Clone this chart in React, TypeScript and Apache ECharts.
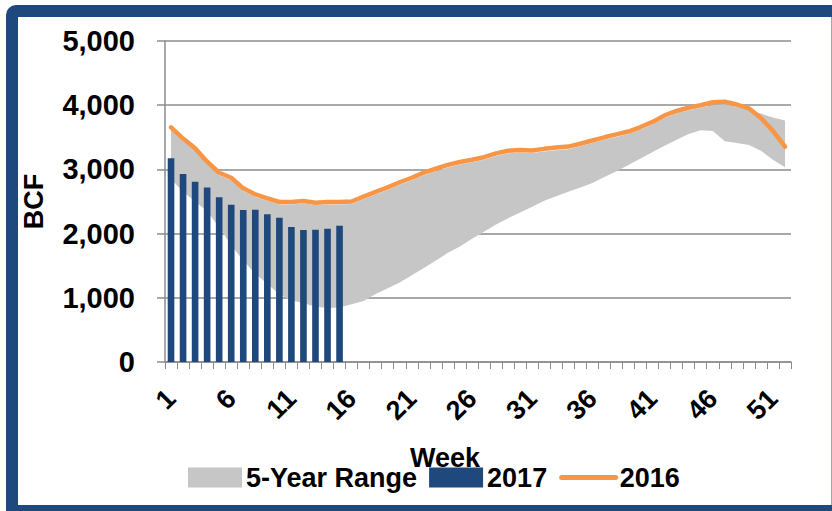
import React, { useEffect, useRef } from "react";
import * as echarts from "echarts";

const weeks = ["1","2","3","4","5","6","7","8","9","10","11","12","13","14","15","16","17","18","19","20","21","22","23","24","25","26","27","28","29","30","31","32","33","34","35","36","37","38","39","40","41","42","43","44","45","46","47","48","49","50","51","52"];

const yAxisTicks = [0, 1000, 2000, 3000, 4000, 5000];

const storage2017 = [3172, 2928, 2808, 2720, 2565, 2450, 2368, 2370, 2300, 2248, 2103, 2056, 2060, 2077, 2124];

const storage2016 = [3655, 3480, 3328, 3120, 2948, 2870, 2705, 2610, 2550, 2492, 2492, 2508, 2482, 2492, 2492, 2500, 2575, 2650, 2720, 2800, 2870, 2950, 3010, 3070, 3115, 3150, 3190, 3250, 3290, 3302, 3295, 3320, 3340, 3355, 3400, 3450, 3500, 3545, 3590, 3660, 3740, 3840, 3910, 3960, 4000, 4045, 4055, 4010, 3951, 3800, 3600, 3354];

const rangeHigh = [3615, 3440, 3290, 3085, 2910, 2830, 2665, 2570, 2510, 2455, 2455, 2470, 2445, 2455, 2455, 2460, 2535, 2610, 2680, 2760, 2830, 2910, 2970, 3030, 3075, 3110, 3150, 3210, 3250, 3262, 3255, 3280, 3300, 3315, 3360, 3410, 3460, 3505, 3550, 3620, 3700, 3800, 3870, 3920, 3960, 4005, 4015, 3975, 3920, 3870, 3810, 3760];

const rangeLow = [2850, 2650, 2500, 2350, 2100, 1820, 1580, 1375, 1220, 1050, 960, 914, 860, 840, 850, 900, 950, 1060, 1150, 1240, 1350, 1465, 1580, 1700, 1800, 1920, 2030, 2140, 2240, 2330, 2420, 2510, 2580, 2650, 2720, 2790, 2880, 2970, 3069, 3170, 3270, 3370, 3460, 3550, 3610, 3600, 3440, 3410, 3380, 3290, 3150, 3033];

const legendNames = ["5-Year Range", "2017", "2016"];

const FONT = "Liberation Sans";
const NAVY = "#1F497D";
const GRAY = "#C6C6C6";
const ORANGE = "#F79646";

export default function App() {
  const ref = useRef<HTMLDivElement>(null);

  useEffect(() => {
    if (!ref.current) return;
    const chart = echarts.init(ref.current, undefined, { renderer: "svg" });
    const rangeSpan = rangeHigh.map((h, i) => h - rangeLow[i]);
    chart.setOption({
      animation: false,
      backgroundColor: "#ffffff",
      textStyle: { fontFamily: FONT, fontWeight: "bold", color: "#000" },
      grid: { left: 165, right: 41, top: 41, bottom: 149 },
      legend: {
        data: [
          { name: legendNames[0], icon: "rect", itemStyle: { color: GRAY } },
          { name: legendNames[1], icon: "rect", itemStyle: { color: NAVY } },
          { name: legendNames[2], itemStyle: { opacity: 0 }, lineStyle: { color: ORANGE, width: 5, cap: "round" } },
        ],
        left: 188,
        top: 464,
        padding: 0,
        itemWidth: 54,
        itemHeight: 20,
        itemGap: 12,
        textStyle: { fontFamily: FONT, fontWeight: "bold", fontSize: 27, color: "#000", padding: [0, 0, 0, -1] },
      },
      xAxis: {
        type: "category",
        data: weeks,
        boundaryGap: true,
        name: "Week",
        nameLocation: "middle",
        nameGap: 82,
        nameTextStyle: { fontFamily: FONT, fontWeight: "bold", fontSize: 27, color: "#000", padding: [0, 66, 0, 0] },
        axisLine: { show: true, lineStyle: { color: "#8C8C8C", width: 1.5 } },
        axisTick: { show: true, interval: 0, length: 7, lineStyle: { color: "#8C8C8C", width: 1 } },
        axisLabel: { interval: 4, rotate: 45, margin: 32, fontFamily: FONT, fontWeight: "bold", fontSize: 27, color: "#000" },
        splitLine: { show: false },
      },
      yAxis: {
        type: "value",
        min: yAxisTicks[0],
        max: yAxisTicks[yAxisTicks.length - 1],
        interval: yAxisTicks[1] - yAxisTicks[0],
        name: "BCF",
        nameLocation: "middle",
        nameRotate: 90,
        nameGap: 118,
        nameTextStyle: { fontFamily: FONT, fontWeight: "bold", fontSize: 27, color: "#000" },
        axisLine: { show: true, lineStyle: { color: "#8C8C8C", width: 1.5 } },
        axisTick: { show: true, length: 8, lineStyle: { color: "#8C8C8C", width: 1.5 } },
        axisLabel: {
          margin: 30,
          fontFamily: FONT,
          fontWeight: "bold",
          fontSize: 29,
          color: "#000",
          formatter: (v: number) => v.toLocaleString("en-US"),
        },
        splitLine: { show: true, lineStyle: { color: "#8C8C8C", width: 1.5 } },
      },
      series: [
        {
          name: "low",
          type: "line",
          stack: "range",
          data: rangeLow,
          symbol: "none",
          lineStyle: { opacity: 0, width: 0 },
          silent: true,
          z: 1,
        },
        {
          name: legendNames[0],
          type: "line",
          stack: "range",
          data: rangeSpan,
          symbol: "none",
          lineStyle: { opacity: 0, width: 0 },
          itemStyle: { color: GRAY },
          areaStyle: { color: GRAY, opacity: 1 },
          z: 1,
        },
        {
          name: legendNames[1],
          type: "bar",
          data: storage2017,
          barWidth: "55%",
          itemStyle: { color: NAVY },
          z: 3,
        },
        {
          name: legendNames[2],
          type: "line",
          data: storage2016,
          symbol: "none",
          showSymbol: false,
          itemStyle: { color: ORANGE },
          lineStyle: { color: ORANGE, width: 4.5, cap: "round", join: "round" },
          z: 4,
        },
      ],
    });
    return () => chart.dispose();
  }, []);

  return (
    <div style={{ position: "fixed", left: 0, top: 0, width: 832, height: 511, overflow: "hidden", background: "#fff" }}>
      <div ref={ref} style={{ position: "absolute", left: 0, top: 0, width: 832, height: 511 }} />
      <div
        style={{
          position: "absolute",
          left: 6,
          top: 5,
          width: 860,
          height: 512,
          boxSizing: "border-box",
          border: `12px solid ${NAVY}`,
          borderRadius: "10px 0 0 0",
          pointerEvents: "none",
        }}
      />
      <div style={{ position: "absolute", left: 831, top: 17, width: 1, height: 488, background: "#9AA6BF" }} />
    </div>
  );
}
